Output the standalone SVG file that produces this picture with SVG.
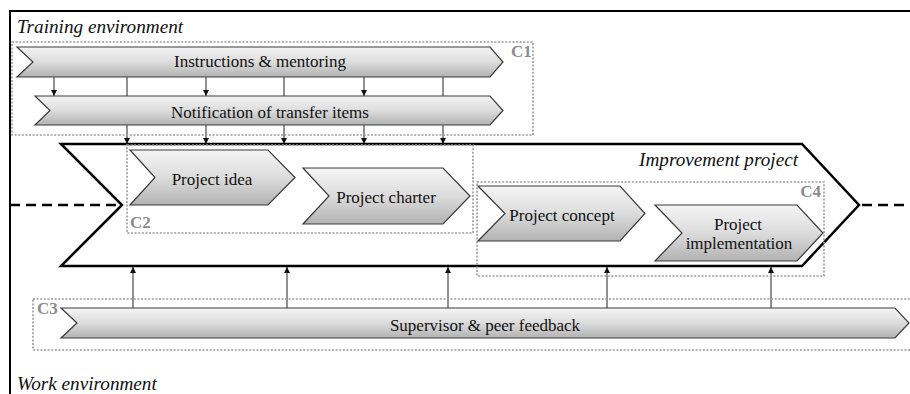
<svg xmlns="http://www.w3.org/2000/svg" width="910" height="394" viewBox="0 0 910 394">
<style>
.chev{fill:url(#g);stroke:#3a3a3a;stroke-width:1.2}
text{font-family:'Liberation Serif','DejaVu Serif',serif}
.lbl{font-size:17px;fill:#111;text-anchor:middle}
.it{font-size:19.2px;font-style:italic;fill:#111}
.c{font-size:17px;font-weight:bold;fill:#8c8c8c}
.dot{fill:none;stroke:#999;stroke-width:1.6;stroke-dasharray:2 1.6}
.ar{stroke:#222;stroke-width:1;fill:none;marker-end:url(#ah)}
</style>
<defs>
<linearGradient id="g" x1="0" y1="0" x2="0" y2="1">
<stop offset="0" stop-color="#f5f5f5"/>
<stop offset="0.5" stop-color="#dcdcdc"/>
<stop offset="1" stop-color="#b2b2b2"/>
</linearGradient>
<marker id="ah" viewBox="0 0 10 10" refX="10" refY="5" markerWidth="6" markerHeight="6" markerUnits="userSpaceOnUse" orient="auto">
<path d="M0,0 L10,5 L0,10 Z" fill="#111"/>
</marker>
</defs>
<rect width="910" height="394" fill="#fff"/>
<g id="frame">
<path d="M910,11 H10 V394" fill="none" stroke="#000" stroke-width="2"/>
<text class="it" x="17" y="33" font-family="Liberation Serif, serif">Training environment</text>
<text class="it" x="17" y="390" font-family="Liberation Serif, serif">Work environment</text>
</g>
<g id="improvement-project">
<path d="M61,144 H802 L859,205 L802,266 H61 L122,205 Z" fill="#fff" stroke="#000" stroke-width="2.5" stroke-linejoin="miter"/>
<path d="M10,205 H122 M862,205 H910" stroke="#000" stroke-width="2.5" stroke-dasharray="10 6"/>
<text class="it" x="798" y="166" text-anchor="end" font-family="Liberation Serif, serif">Improvement project</text>
</g>
<g id="connectors">
<path class="ar" d="M127,77 V144"/>
<path class="ar" d="M284,77 V144"/>
<path class="ar" d="M443,77 V144"/>
<path class="ar" d="M54,77 V96"/>
<path class="ar" d="M206,77 V96"/>
<path class="ar" d="M364,77 V96"/>
<path class="ar" d="M206,125 V144"/>
<path class="ar" d="M364,125 V144"/>
<path class="ar" d="M133,308 V267"/>
<path class="ar" d="M287,308 V267"/>
<path class="ar" d="M448,308 V267"/>
<path class="ar" d="M607,308 V267"/>
<path class="ar" d="M771,308 V267"/>
</g>
<g id="C1">
<rect class="dot" x="12" y="42" width="521" height="93"/>
<text class="c" x="511" y="57" font-family="Liberation Serif, serif">C1</text>
</g>
<g id="instructions">
<path class="chev" d="M17,47 H490 L503,62 L490,77 H17 L33,62 Z"/>
<text class="lbl" x="260" y="67" font-family="Liberation Serif, serif">Instructions &amp; mentoring</text>
</g>
<g id="notification">
<path class="chev" d="M35,96 H490 L503,110.5 L490,125 H35 L50,110.5 Z"/>
<text class="lbl" x="270" y="118" font-family="Liberation Serif, serif">Notification of transfer items</text>
</g>
<g id="C2">
<rect class="dot" x="127" y="145" width="346" height="88"/>
<text class="c" x="130" y="228" font-family="Liberation Serif, serif">C2</text>
</g>
<g id="project-idea">
<path class="chev" d="M130,150 H268 L295,177.5 L268,205 H130 L155,177.5 Z"/>
<text class="lbl" x="212" y="185" font-family="Liberation Serif, serif">Project idea</text>
</g>
<g id="project-charter">
<path class="chev" d="M303,168 H443 L470,196 L443,224 H303 L329,196 Z"/>
<text class="lbl" x="386" y="203" font-family="Liberation Serif, serif">Project charter</text>
</g>
<g id="C4">
<rect class="dot" x="477" y="182" width="347" height="94"/>
<text class="c" x="821" y="197" text-anchor="end" font-family="Liberation Serif, serif">C4</text>
</g>
<g id="project-concept">
<path class="chev" d="M478,186 H620 L645,213.5 L620,241 H478 L505,213.5 Z"/>
<text class="lbl" x="562" y="221" font-family="Liberation Serif, serif">Project concept</text>
</g>
<g id="project-implementation">
<path class="chev" d="M655,205 H797 L823,233 L797,261 H655 L682,233 Z"/>
<text class="lbl" x="738" y="230" font-family="Liberation Serif, serif">Project</text>
<text class="lbl" x="739" y="249" font-family="Liberation Serif, serif">implementation</text>
</g>
<g id="C3">
<rect class="dot" x="33" y="299" width="890" height="51"/>
<text class="c" x="37" y="314" font-family="Liberation Serif, serif">C3</text>
</g>
<g id="supervisor">
<path class="chev" d="M61,308 H895 L909,323 L895,338 H61 L77,323 Z"/>
<text class="lbl" x="485" y="331" font-family="Liberation Serif, serif">Supervisor &amp; peer feedback</text>
</g>
</svg>
